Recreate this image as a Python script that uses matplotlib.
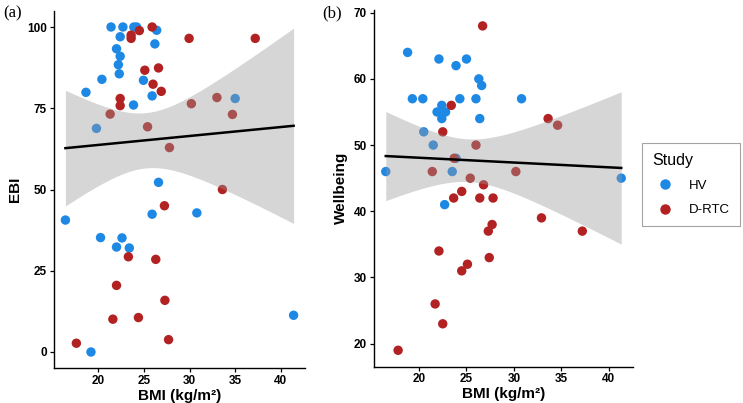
import numpy as np
import matplotlib
matplotlib.use("Agg")
import matplotlib.pyplot as plt
from matplotlib.lines import Line2D

# ---------------- data ----------------
# Panel (a): BMI vs EBI
a_hv_bmi = [21.4, 22.7, 23.9, 24.2, 26.4, 22.4, 26.2, 22.0, 22.4, 22.2, 22.3, 20.4,
            24.95, 18.65, 25.9, 23.86, 35.0, 19.8, 26.6, 16.4, 25.9, 30.8, 20.25, 22.6,
            22.0, 23.4, 41.4, 19.2]
a_hv_ebi = [100, 100, 100, 100, 99, 97, 94.8, 93.3, 91, 88.4, 85.6, 83.9,
            83.6, 79.9, 78.8, 76, 78, 68.8, 52.2, 40.6, 42.4, 42.8, 35.2, 35.1,
            32.3, 32, 11.3, 0]
a_rtc_bmi = [25.9, 24.5, 23.6, 23.6, 29.95, 37.2, 25.1, 26.6, 26.0, 26.9, 22.4, 22.4,
             21.3, 30.2, 33.0, 34.7, 25.4, 27.8, 33.6, 27.25, 23.3, 26.3, 22.0, 27.3,
             21.6, 24.4, 27.7, 17.6]
a_rtc_ebi = [100, 98.9, 97.5, 96.5, 96.5, 96.5, 86.7, 87.4, 82.4, 80.2, 78, 75.8,
             73.2, 76.4, 78.3, 73.1, 69.3, 62.9, 50, 45, 29.3, 28.5, 20.5, 15.9,
             10.1, 10.6, 3.8, 2.7]

# Panel (b): BMI vs Wellbeing
b_hv_bmi = [18.8, 22.1, 25.0, 23.9, 26.3, 26.6, 19.3, 20.4, 24.3, 26.0, 30.8, 22.4,
            21.9, 22.8, 22.4, 26.4, 20.5, 21.5, 23.9, 16.5, 23.5, 41.3, 22.7]
b_hv_wb = [64, 63, 63, 62, 60, 59, 57, 57, 57, 57, 57, 56,
           55, 55, 54, 54, 52, 50, 48, 46, 46, 45, 41]
b_rtc_bmi = [26.7, 23.4, 22.5, 33.6, 34.6, 26.0, 23.7, 21.4, 30.2, 25.4, 26.8, 24.5,
             23.65, 26.4, 27.8, 27.7, 27.3, 32.9, 37.2, 22.1, 27.4, 25.1, 24.5, 21.7,
             22.5, 17.8]
b_rtc_wb = [68, 56, 52, 54, 53, 50, 48, 46, 46, 45, 44, 43,
            42, 42, 42, 38, 37, 39, 37, 34, 33, 32, 31, 26,
            23, 19]

groups = ["HV", "D-RTC"]
colors = {"HV": "#1E88E5", "D-RTC": "#B22222"}

a_yticks = [0, 25, 50, 75, 100]
b_yticks = [20, 30, 40, 50, 60, 70]
xticks = [20, 25, 30, 35, 40]

# t quantiles (0.975) for the 95% confidence band
T_A = 2.005   # df = 54
T_B = 2.012   # df = 47

TICKFONT = dict(family="Liberation Sans", weight="bold", size=8.5)
LABFONT = dict(family="Liberation Sans", weight="bold", size=11)


def lm_band(x, y, tq, xs):
    x = np.asarray(x, float)
    y = np.asarray(y, float)
    n = len(x)
    b1, b0 = np.polyfit(x, y, 1)
    res = y - (b0 + b1 * x)
    s = np.sqrt(np.sum(res ** 2) / (n - 2))
    xm = x.mean()
    sxx = np.sum((x - xm) ** 2)
    yhat = b0 + b1 * xs
    se = s * np.sqrt(1.0 / n + (xs - xm) ** 2 / sxx)
    return yhat, yhat - tq * se, yhat + tq * se


def panel(ax, hv_x, hv_y, rtc_x, rtc_y, tq, yticks, ylabel):
    ax.scatter(hv_x, hv_y, s=46, color=colors["HV"], edgecolors="none", zorder=2)
    ax.scatter(rtc_x, rtc_y, s=46, color=colors["D-RTC"], edgecolors="none", zorder=2)
    allx = np.array(hv_x + rtc_x, float)
    ally = np.array(hv_y + rtc_y, float)
    xs = np.linspace(allx.min(), allx.max(), 200)
    yhat, lo, hi = lm_band(allx, ally, tq, xs)
    ax.fill_between(xs, lo, hi, color="#999999", alpha=0.4, linewidth=0, zorder=3)
    ax.plot(xs, yhat, color="black", lw=1.8, zorder=4)
    xr = allx.max() - allx.min()
    ax.set_xlim(allx.min() - 0.05 * xr, allx.max() + 0.05 * xr)
    yr = ally.max() - ally.min()
    ax.set_ylim(ally.min() - 0.05 * yr, ally.max() + 0.05 * yr)
    ax.set_xticks(xticks)
    ax.set_yticks(yticks)
    ax.set_xticklabels([str(t) for t in xticks], fontdict=TICKFONT)
    ax.set_yticklabels([str(t) for t in yticks], fontdict=TICKFONT)
    for sp in ["top", "right"]:
        ax.spines[sp].set_visible(False)
    for sp in ["left", "bottom"]:
        ax.spines[sp].set_linewidth(1.0)
        ax.spines[sp].set_color("black")
    ax.tick_params(length=3, width=0.9, color="black", pad=2)
    ax.set_xlabel("BMI (kg/m²)", fontdict=LABFONT, labelpad=1)
    ax.set_ylabel(ylabel, fontdict=LABFONT, labelpad=4)


fig = plt.figure(figsize=(7.43, 4.03), dpi=100)
ax1 = fig.add_axes([54 / 743, 1 - 368.25 / 403, (305 - 54) / 743, (368.25 - 10.75) / 403])
ax2 = fig.add_axes([374 / 743, 1 - 366.5 / 403, (633 - 374) / 743, (366.5 - 9.7) / 403])

panel(ax1, a_hv_bmi, a_hv_ebi, a_rtc_bmi, a_rtc_ebi, T_A, a_yticks, "EBI")
panel(ax2, b_hv_bmi, b_hv_wb, b_rtc_bmi, b_rtc_wb, T_B, b_yticks, "Wellbeing")

fig.text(3 / 743, 1 - 13 / 403, "(a)", family="Liberation Serif", size=12, va="center", ha="left")
fig.text(322 / 743, 1 - 13 / 403, "(b)", family="Liberation Serif", size=12, va="center", ha="left")

handles = [Line2D([], [], marker="o", linestyle="none", markersize=7.5,
                  markerfacecolor=colors[g], markeredgecolor="none") for g in groups]
leg = fig.legend(handles, groups, title="Study", loc="upper left",
                 bbox_to_anchor=(642 / 743, 1 - 143 / 403), borderaxespad=0.0,
                 frameon=True, fancybox=False, edgecolor="#8c8c8c",
                 prop=dict(family="Liberation Sans", size=9.5),
                 title_fontproperties=dict(family="Liberation Sans", size=11.5),
                 handlelength=2.0, handletextpad=0.8, labelspacing=0.9,
                 borderpad=0.75, alignment="left")
leg.get_frame().set_linewidth(0.8)

fig.savefig("out.png", dpi=100)
